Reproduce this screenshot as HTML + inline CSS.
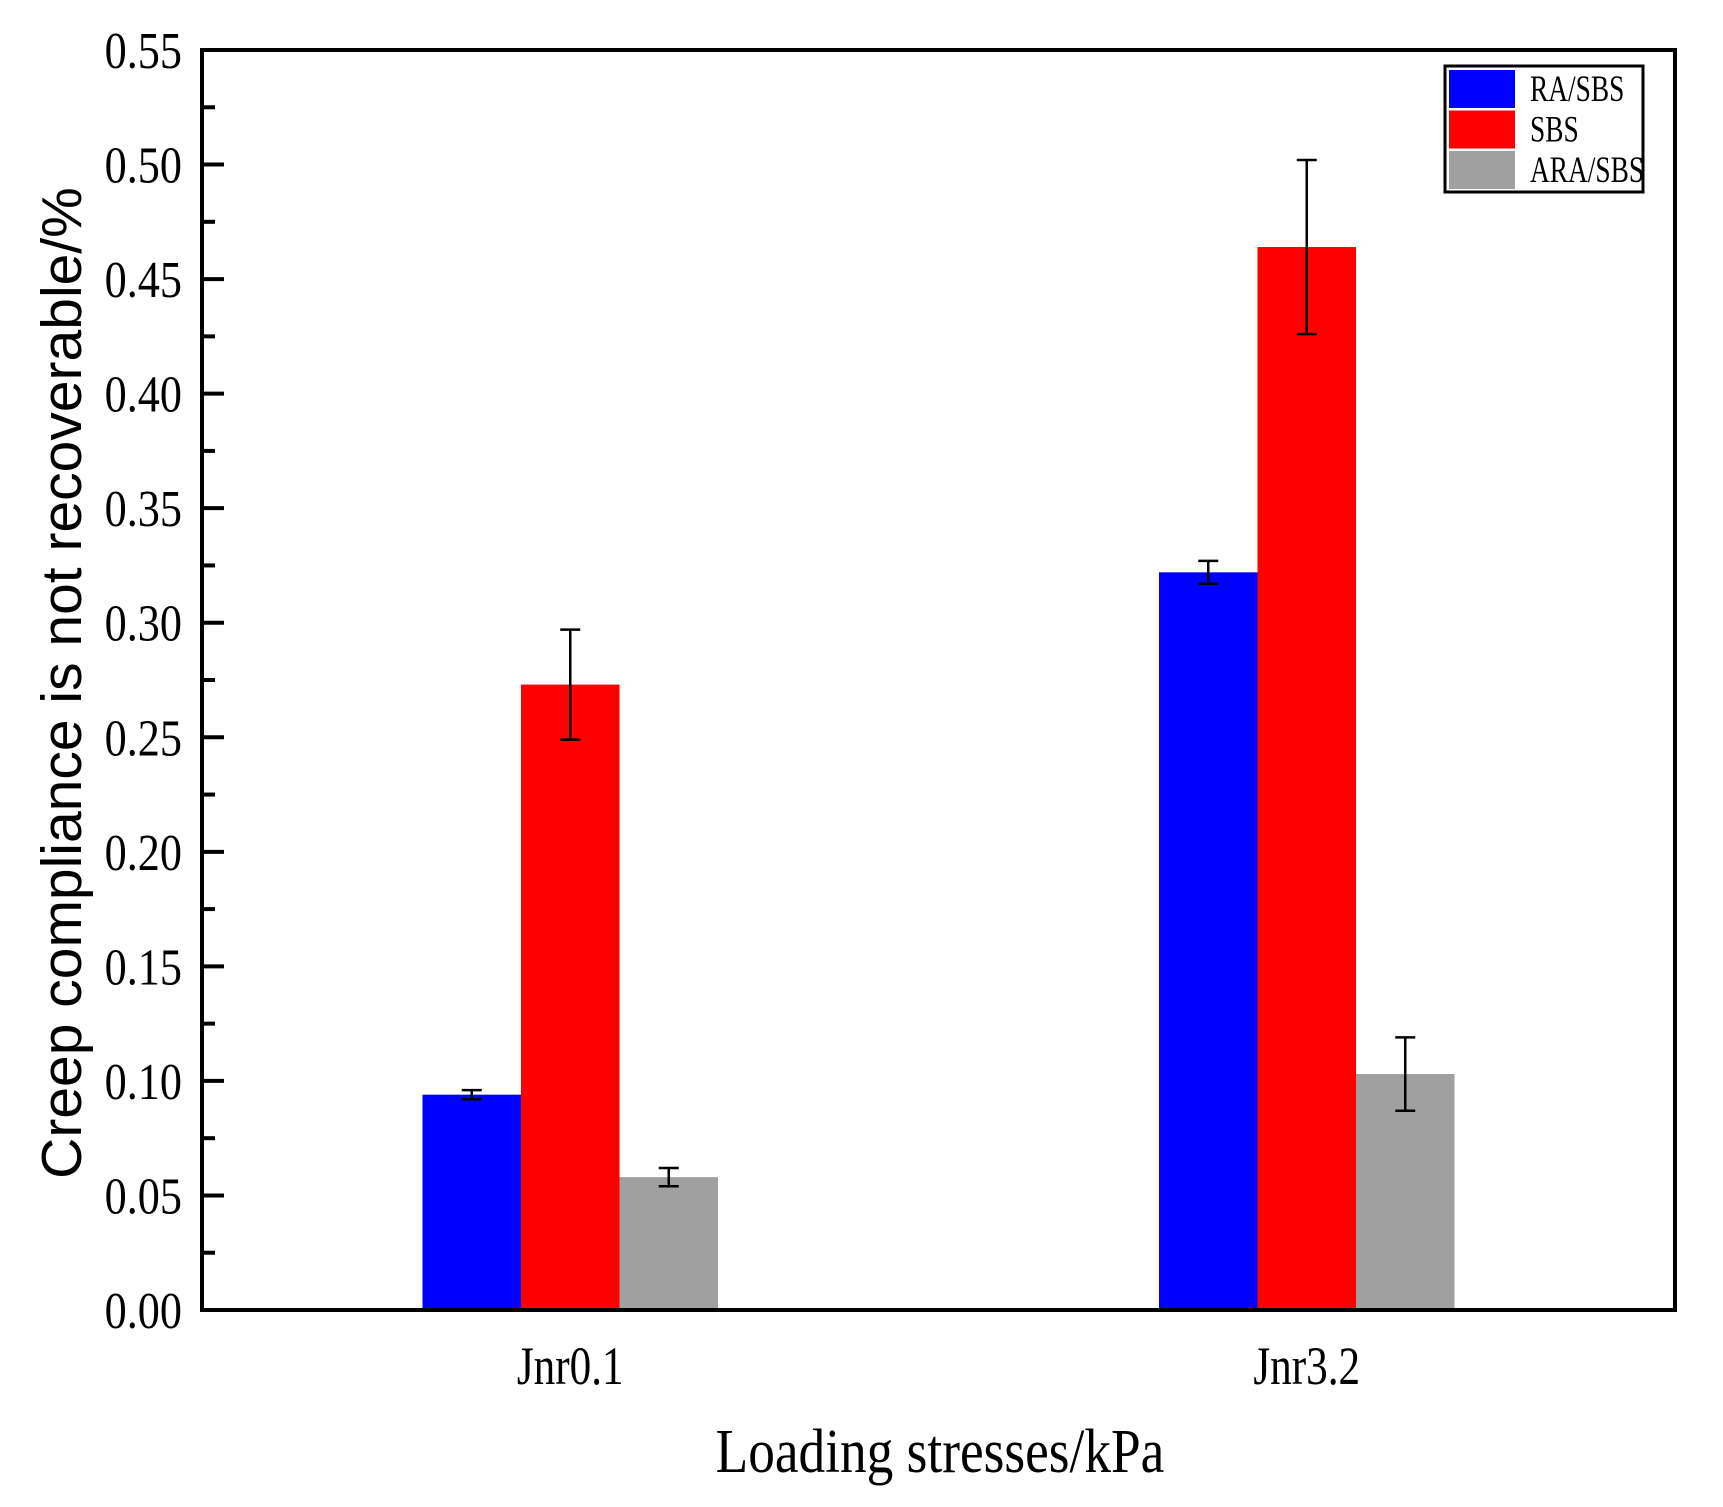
<!DOCTYPE html>
<html><head><meta charset="utf-8"><style>body{margin:0;background:#fff}svg{display:block}</style></head>
<body>
<svg id="chart" width="1723" height="1507" xmlns="http://www.w3.org/2000/svg" font-family="'Liberation Serif', serif">
<g id="marks"></g>
<g id="axes"></g>
</svg>
<script>
const categories = ["Jnr0.1", "Jnr3.2"];
const seriesNames = ["RA/SBS", "SBS", "ARA/SBS"];
const seriesColors = ["#0000ff", "#ff0000", "#a0a0a0"];
const raSbs = [0.094, 0.322];
const sbs = [0.273, 0.464];
const araSbs = [0.058, 0.103];
const raSbsErr = [0.002, 0.005];
const sbsErr = [0.024, 0.038];
const araSbsErr = [0.004, 0.016];
const yTicks = ["0.00","0.05","0.10","0.15","0.20","0.25","0.30","0.35","0.40","0.45","0.50","0.55"];

const NS = "http://www.w3.org/2000/svg";
const L = 202, R = 1675, T = 50, B = 1310, yMax = 0.55;
const y = v => B - v / yMax * (B - T);
const x = i => L + (R - L) * (i + 0.5) / categories.length;
const BW = 98.5;
function mk(tag, attrs, parent, text) {
  const e = document.createElementNS(NS, tag);
  for (const k in attrs) e.setAttribute(k, attrs[k]);
  if (text !== undefined) e.textContent = text;
  parent.appendChild(e);
  return e;
}
const marks = document.getElementById("marks");
const axes = document.getElementById("axes");
const series = [raSbs, sbs, araSbs];
const errs = [raSbsErr, sbsErr, araSbsErr];
categories.forEach((c, i) => {
  series.forEach((s, j) => {
    const bx = x(i) + (j - 1.5) * BW;
    const r = mk("rect", {x: bx, y: y(s[i]), width: BW, height: B - y(s[i]), fill: seriesColors[j]}, marks);
    
    
    const cx = bx + BW / 2, hi = y(s[i] + errs[j][i]), lo = y(s[i] - errs[j][i]);
    const g = mk("g", {stroke: "#000", "stroke-width": 2.5}, marks);
    
    
    mk("line", {x1: cx, x2: cx, y1: hi, y2: lo}, g);
    mk("line", {x1: cx - 10, x2: cx + 10, y1: hi, y2: hi}, g);
    mk("line", {x1: cx - 10, x2: cx + 10, y1: lo, y2: lo}, g);
  });
  const t = mk("text", {x: x(i), y: 1384, "font-size": 54, "text-anchor": "middle", transform: `translate(${x(i)},0) scale(0.8,1) translate(${-x(i)},0)`}, axes, c);
  
  
});
yTicks.forEach((lab, k) => {
  const v = parseFloat(lab), ty = y(v);
  mk("line", {x1: L, x2: L + 22, y1: ty, y2: ty, stroke: "#000", "stroke-width": 4}, axes);
  if (k < yTicks.length - 1) {
    const my = y(v + 0.025);
    mk("line", {x1: L, x2: L + 13, y1: my, y2: my, stroke: "#000", "stroke-width": 4}, axes);
  }
  const t = mk("text", {x: 182, y: ty + 18, "font-size": 52, "text-anchor": "end", transform: `translate(182,0) scale(0.85,1) translate(-182,0)`}, axes, lab);
  
  
});
const frame = mk("rect", {x: L, y: T, width: R - L, height: B - T, fill: "none", stroke: "#000", "stroke-width": 4}, axes);


const yt = mk("text", {x: 0, y: 0, "font-size": 57, "font-family": "'Liberation Sans', sans-serif", "text-anchor": "middle", transform: "translate(81,683) rotate(-90)"}, axes, "Creep compliance is not recoverable/%");


const xt = mk("text", {x: 940, y: 1472, "font-size": 62, "text-anchor": "middle", transform: "translate(940,0) scale(0.86,1) translate(-940,0)"}, axes, "Loading stresses/kPa");


const lg = mk("g", {}, axes);


mk("rect", {x: 1445, y: 66, width: 198, height: 126, fill: "#fff", stroke: "#000", "stroke-width": 3}, lg);
seriesNames.forEach((n, j) => {
  const ry = 70 + j * 40.5;
  const sw = mk("rect", {x: 1449, y: ry, width: 66, height: 38, fill: seriesColors[j]}, lg);
  
  
  const t = mk("text", {x: 1530, y: ry + 31, "font-size": 37, transform: `translate(1530,0) scale(0.74,1) translate(-1530,0)`}, lg, n);
  
  
});
</script>
</body></html>
